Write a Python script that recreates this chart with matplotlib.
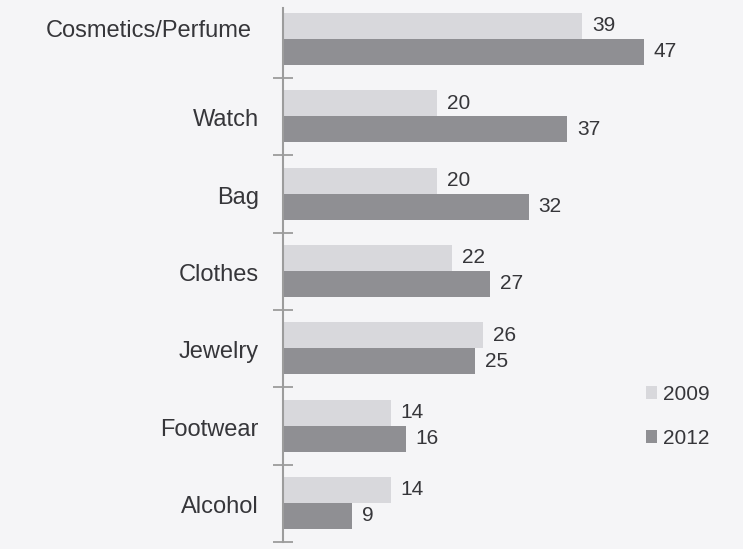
import numpy as np
import matplotlib
matplotlib.use("Agg")
import matplotlib.pyplot as plt
import matplotlib.transforms as mtransforms

categories = ["Cosmetics/Perfume", "Watch", "Bag", "Clothes", "Jewelry", "Footwear", "Alcohol"]
values_2009 = [39, 20, 20, 22, 26, 14, 14]
values_2012 = [47, 37, 32, 27, 25, 16, 9]
series_names = ["2009", "2012"]

bg = "#f5f5f7"
c09 = "#d8d8dc"
c12 = "#8f8f93"
txt = "#36363a"
axc = "#9c9c9c"

plt.rcParams["font.family"] = ["Liberation Sans", "DejaVu Sans"]

W, H = 743, 549
fig = plt.figure(figsize=(W / 100, H / 100), dpi=100, facecolor=bg)
# axes box in pixels: left 283, right 743, top 0.7, bottom 542
ax = fig.add_axes([283 / W, (H - 542) / H, (W - 283) / W, (542 - 0.7) / H])
ax.set_facecolor(bg)

n = len(categories)
y = np.arange(n)[::-1].astype(float)
bh = 0.336
b1 = ax.barh(y + bh / 2 + 0.005, values_2009, height=bh, color=c09, label=series_names[0])
b2 = ax.barh(y - bh / 2 + 0.005, values_2012, height=bh, color=c12, label=series_names[1])

for yy, v in zip(y + bh / 2 + 0.005, values_2009):
    ax.text(v + 1.3, yy, str(v), va="center", ha="left", fontsize=15, color=txt)
for yy, v in zip(y - bh / 2 + 0.005, values_2012):
    ax.text(v + 1.3, yy, str(v), va="center", ha="left", fontsize=15, color=txt)

ax.set_xlim(0, 59.9)
ax.set_ylim(-0.5, n - 0.5)

for s in ["top", "right", "bottom"]:
    ax.spines[s].set_visible(False)
ax.spines["left"].set_color(axc)
ax.spines["left"].set_linewidth(1.5)
ax.spines["left"].set_bounds(-0.5, n - 0.5 - 7.3 / 77.3)

ax.set_xticks([])
ax.set_yticks([])

# category labels, placed a little off the category centre like the original
base = mtransforms.blended_transform_factory(ax.transAxes, ax.transData)
for i, (yy, name) in enumerate(zip(y, categories)):
    dx, dy = (-31, 8.5) if i == 0 else (-24, -3.5)
    tr = mtransforms.offset_copy(base, fig=fig, x=dx, y=dy, units="dots")
    ax.text(0, yy, name, transform=tr, ha="right", va="center", fontsize=17, color=txt)

# boundary ticks crossing the axis
ax.set_yticks(np.arange(-0.5, n - 1, 1.0), minor=True)
ax.tick_params(axis="y", which="minor", length=15, width=1.3, color=axc, direction="inout")

ax.legend(handles=[b1, b2], loc="upper left", bbox_to_anchor=(627 / W, 1 - 366 / H),
          bbox_transform=fig.transFigure, frameon=False, fontsize=15,
          handlelength=0.55, handleheight=0.55, handletextpad=0.3,
          labelspacing=1.2, labelcolor=txt)

fig.savefig("out.png", dpi=100, facecolor=bg)
